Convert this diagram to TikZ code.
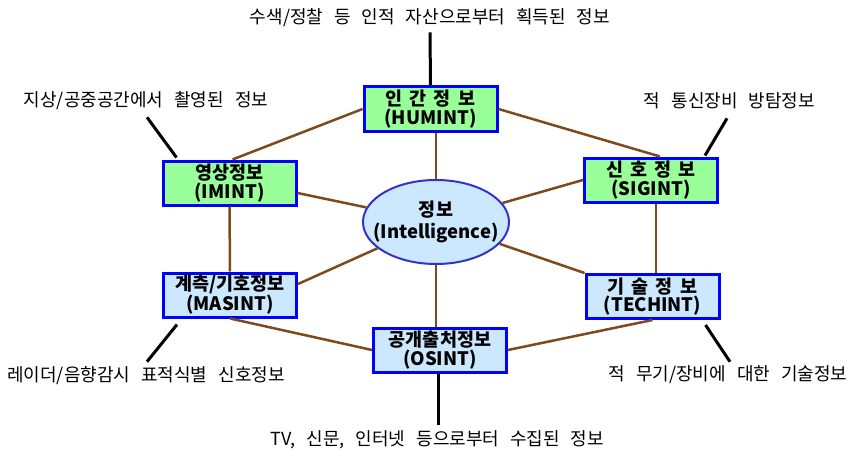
\documentclass[tikz,border=0pt]{standalone}
\usepackage{fontspec}
\newfontfamily\kr{Noto Sans CJK KR}
\newfontfamily\krb{Noto Sans CJK KR}
\usetikzlibrary{shapes.geometric,calc}
\definecolor{gfill}{RGB}{153,255,153}
\definecolor{bfill}{RGB}{204,232,255}
\definecolor{bord}{RGB}{0,0,255}
\definecolor{ebord}{RGB}{51,51,204}
\definecolor{brn}{RGB}{123,75,30}
\newcommand\boxfnt{\krb\bfseries\fontsize{18.5}{18.5}\selectfont\spaceskip=7pt\relax}
\newcommand\lblfnt{\kr\fontsize{18}{18}\selectfont\spaceskip=11pt\relax}
\begin{document}
\begin{tikzpicture}[x=1pt,y=-1pt,
  box/.style={draw=bord, line width=3pt, minimum width=133pt, minimum height=44pt,
    align=center, inner sep=0pt, font=\boxfnt},
  gbox/.style={box, fill=gfill},
  bbox/.style={box, fill=bfill},
  lbl/.style={font=\lblfnt, inner sep=0pt},
  hex/.style={draw=brn, line width=2.5pt},
  call/.style={draw=black, line width=3pt}]
\useasboundingbox (0,0) rectangle (849,452);
\fill[white] (0,0) rectangle (849,452);

% boxes
\node[gbox, minimum height=45pt] (hum) at (430.5,109) {인 간 정 보\\(HUMINT)};
\node[gbox] (im) at (229.5,183) {영상정보\\(IMINT)};
\node[gbox] (sig) at (651,180) {신 호 정 보\\(SIGINT)};
\node[bbox] (mas) at (230,295) {계측/기호정보\\(MASINT)};
\node[bbox] (tech) at (652.5,296.5) {기 술 정 보\\(TECHINT)};
\node[bbox] (os) at (440,350) {공개출처정보\\(OSINT)};
\node[ellipse, draw=ebord, line width=2pt, fill=bfill, minimum width=146pt,
  minimum height=84pt, inner xsep=-16pt, inner ysep=0pt, align=center,
  font=\krb\bfseries\fontsize{18.5}{22}\selectfont] (ell) at (436,222) {정보\\(Intelligence)};

% hexagon
\draw[hex] (hum.west) -- ($(im.north)+(3,0)$);
\draw[hex] (hum.east) -- ($(sig.north)+(9,0)$);
\draw[hex] (im.south) -- (mas.north);
\draw[hex] ($(sig.south)+(5,0)$) -- ($(tech.north)+(3.5,0)$);
\draw[hex] (mas.south) -- (os.west);
\draw[hex] (tech.south) -- (os.east);
% spokes
\draw[hex] (hum.south -| ell.north) -- (ell.north);
\draw[hex] (os.north -| ell.south) -- (ell.south);
\draw[hex] ($(im.east)+(0,10)$) -- (ell);
\draw[hex] (sig.west) -- (ell);
\draw[hex] ($(mas.east)+(0,-11)$) -- (ell);
\draw[hex] (tech.north west) -- (ell);

% callouts
\node[lbl] (t1) at (430,18) {수색/정찰 등 인적 자산으로부터 획득된 정보};
\node[lbl] (t2) at (146,101) {지상/공중공간에서 촬영된 정보};
\node[lbl] (t3) at (729.5,101) {적 통신장비 방탐정보};
\node[lbl] (t4) at (146,376) {레이더/음향감시 표적식별 신호정보};
\node[lbl] (t5) at (728,375) {적 무기/장비에 대한 기술정보};
\node[lbl] (t6) at (437.5,440) {TV, 신문, 인터넷 등으로부터 수집된 정보};

\draw[call] ($(t1.south)+(0,5)$) -- (hum.north);
\draw[call] ($(t2.south)+(1,7)$) -- ($(im.north west)+(15,-2)$);
\draw[call] ($(t3.south)+(-2.5,9)$) -- ($(sig.north west)+(122,-1)$);
\draw[call] ($(t4.north)+(1,-5)$) -- ($(mas.south west)+(15,6)$);
\draw[call] ($(t5.north)+(2,-4)$) -- ($(tech.south east)+(-15,5)$);
\draw[call] ($(t6.north)+(0.5,-6)$) -- ($(os.south)+(-2,0)$);
\end{tikzpicture}
\end{document}
